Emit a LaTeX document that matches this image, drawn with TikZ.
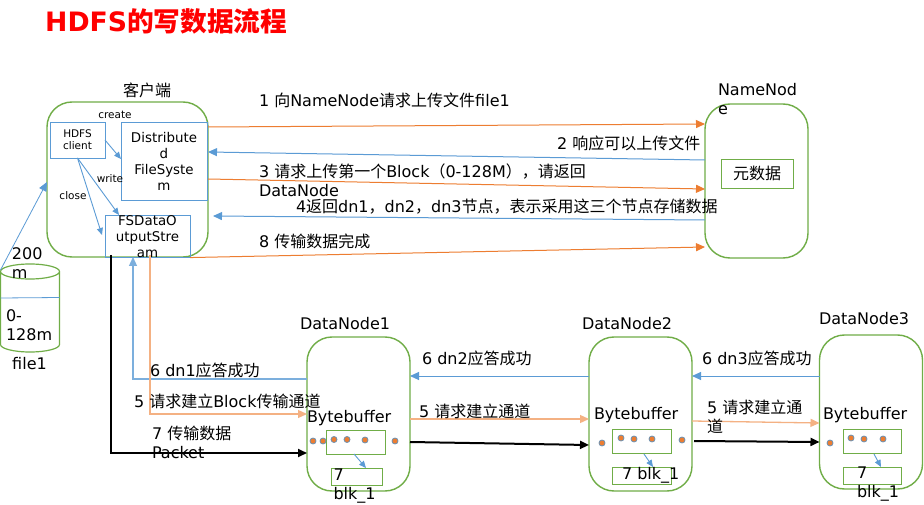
\documentclass[tikz,border=0pt]{standalone}
\usepackage{fontspec}
\setmainfont{DejaVu Sans}
\newfontfamily\cjk{Noto Sans CJK SC}
\newcommand\zh[1]{{\cjk #1}}
\usetikzlibrary{arrows.meta,calc}
\definecolor{cOr}{HTML}{ED7D31}
\definecolor{cBl}{HTML}{5B9BD5}
\definecolor{cGr}{HTML}{70AD47}
\definecolor{cLo}{HTML}{F4B183}
\definecolor{cTi}{HTML}{FF0000}
\newcommand\fs[2]{\fontsize{#1}{#2}\selectfont}
\tikzset{
  x=1pt,y=-1pt,
  lbl/.style={anchor=west,inner sep=0,outer sep=0,align=left,font=\fs{16}{19}},
  clbl/.style={anchor=center,inner sep=0,outer sep=0,align=center,font=\fs{16}{19}},
  rbox/.style={draw=cGr,line width=1.4pt,rounded corners=25pt,inner sep=0,outer sep=0,fill=white},
  gbox/.style={draw=cGr,line width=.9pt,inner sep=0,outer sep=0,align=center},
  bbox/.style={draw=cBl,line width=.9pt,inner sep=0,outer sep=0,align=center},
  tip/.style={-{Triangle[length=9pt,width=8pt]}},
  orl/.style={cOr,line width=1pt,tip},
  bll/.style={cBl,line width=1pt,tip},
  lol/.style={cLo,line width=1.3pt,tip},
  bkl/.style={black,line width=2pt,tip},
  thin arrow/.style={cBl,line width=.9pt,-{Triangle[length=7pt,width=6pt]}},
  dot/.style={circle,fill=cOr,draw=cBl!60!gray,line width=.8pt,minimum size=6pt,inner sep=0},
}
\begin{document}
\begin{tikzpicture}
\useasboundingbox[fill=white] (0,0) rectangle (924,505);
% title
\node[anchor=west,inner sep=0,text=cTi,font=\fs{26.7}{30}\bfseries] (title) at (45,21) {HDFS\zh{的写数据流程}};
% main containers
\node[rbox,minimum width=161pt,minimum height=155pt] (client) at (127.5,179.5) {};
\node[rbox,minimum width=103pt,minimum height=154pt] (nn) at (756.5,181) {};
\node[rbox,minimum width=103pt,minimum height=154pt] (dn1) at (358.5,414) {};
\node[rbox,minimum width=103pt,minimum height=154pt] (dn2) at (640.5,414) {};
\node[rbox,minimum width=103pt,minimum height=154pt] (dn3) at (871,412) {};
% client inner boxes
\node[bbox,minimum width=55pt,minimum height=36pt,font=\fs{10.5}{12}] (hc) at (77.5,140) {HDFS\\client};
\node[bbox,minimum width=86pt,minimum height=78pt,font=\fs{13.4}{16}] (dfs) at (164,161) {Distribute\\d\\FileSyste\\m};
\node[bbox,minimum width=85pt,minimum height=37pt,font=\fs{13.4}{16}] (fs) at (147.5,236.5) {FSDataO\\utputStre\\am};
% namenode box
\node[gbox,minimum width=72pt,minimum height=29pt,font=\fs{16}{19}] (meta) at (757,173.5) {\zh{元数据}};
% file cylinder
\coordinate (cyl) at (0.5,270);
\draw[cGr,line width=1.2pt] (0.5,271.5) arc[start angle=180,end angle=-180,x radius=29.5pt,y radius=7.5pt]
  (0.5,271.5) -- (0.5,344.5) arc[start angle=180,end angle=360,x radius=29.5pt,y radius=7.5pt] -- (59.5,271.5);
\draw[cBl,line width=.8pt] (0.5,298) -- (59.5,297.5);
% dn inner boxes
\node[gbox,minimum width=59pt,minimum height=24pt] (b1) at (355.5,442) {};
\node[gbox,minimum width=51pt,minimum height=17pt] (k1) at (356.5,476.5) {};
\node[gbox,minimum width=59pt,minimum height=24pt] (b2) at (641.5,441) {};
\node[gbox,minimum width=59pt,minimum height=17pt] (k2) at (641.5,475.5) {};
\node[gbox,minimum width=58pt,minimum height=24pt] (b3) at (872,441) {};
\node[gbox,minimum width=58pt,minimum height=17pt] (k3) at (872,475.5) {};
% client internals
\draw[thin arrow] (hc.east |- 0,140) -- (dfs.west |- 0,159);
\draw[thin arrow] (hc.south) -- (119,215);
\draw[thin arrow] (hc.south) -- (102,235);
% top arrows
\draw[orl] (client.east |- 0,127) -- (nn.west |- 0,124);
\draw[bll] (nn.west |- 0,160) -- (client.east |- 0,152);
\draw[orl] (client.east |- 0,179) -- (nn.west |- 0,189);
\draw[bll] (nn.west |- 0,220) -- (213,216);
\draw[orl] (fs.south east) -- (nn.west |- 0,247);
\draw[bll,line width=.8pt] (cyl) -- (client.west |- 0,182);
% down arrows
\draw[bkl] (111,255) |- (dn1.west |- 0,453);
\draw[bll,line width=1.3pt,cBl!80] (dn1.west |- 0,379) -| (133,257);
\draw[lol] (150,255) |- (dn1.west |- 0,414);
% data node arrows
\draw[bll] (dn2.west |- 0,376) -- (dn1.east |- 0,376);
\draw[lol] (dn1.east |- 0,419) -- (dn2.west |- 0,419);
\draw[bkl] (dn1.east |- 0,442) -- (dn2.west |- 0,445);
\draw[bll] (dn3.west |- 0,376) -- (dn2.east |- 0,376);
\draw[lol] (dn2.east |- 0,421) -- (dn3.west |- 0,423);
\draw[bkl] (694,441) -- (dn3.west |- 0,442);
\draw[thin arrow] (354,454) -- (k1.north -| 366,0);
\draw[thin arrow] (644,454) -- (k2.north -| 653,0);
\draw[thin arrow] (874,454) -- (k3.north -| 881,0);
% dots
\foreach \i/\x/\y in {a/313/441,b/323/441,c/334/439.5,d/347/439.5,e/365/440,f/395/441,
  g/602/443,h/621/438,j/634/439,k/652/439,l/682/440,
  m/830/443,n/851/438,o/864/439,p/883/439}
  \node[dot] (dot\i) at (\x,\y) {};
% labels
\node[clbl] (lc) at (147,90) {\zh{客户端}};
\node[clbl,font=\fs{10.5}{12}] (lcreate) at (115,115) {create};
\node[clbl,font=\fs{10.5}{12}] (lwrite) at (110,179) {write};
\node[clbl,font=\fs{10.5}{12}] (lclose) at (73,196) {close};
\node[lbl] (t1) at (259,100) {1 \zh{向}NameNode\zh{请求上传文件}file1};
\node[lbl] (t2) at (557,143) {2 \zh{响应可以上传文件}};
\node[lbl] (t3) at (259,180.5) {3 \zh{请求上传第一个}Block\zh{（}0-128M\zh{），请返回}\\DataNode};
\node[lbl] (t4) at (296,207) {4\zh{返回}dn1\zh{，}dn2\zh{，}dn3\zh{节点，表示采用这三个节点存储数据}};
\node[lbl] (t8) at (259,241) {8 \zh{传输数据完成}};
\node[lbl] (tnn) at (718,99) {NameNod\\e};
\node[lbl] (t200) at (12,263.5) {200\\m};
\node[lbl] (t128) at (6,325.5) {0-\\128m};
\node[clbl] (tf) at (29.5,364) {file1};
\node[lbl] (td1) at (300,324) {DataNode1};
\node[lbl] (td2) at (582,324) {DataNode2};
\node[lbl] (td3) at (819,319) {DataNode3};
\node[lbl] (t61) at (150,370) {6 dn1\zh{应答成功}};
\node[lbl] (t51) at (134,401) {5 \zh{请求建立}Block\zh{传输通道}};
\node[lbl] (t7) at (152,442.5) {7 \zh{传输数据}\\Packet};
\node[lbl] (bb1) at (307,418.5) {Bytebuffer};
\node[lbl] (bb2) at (594,415.5) {Bytebuffer};
\node[lbl] (bb3) at (823,415.5) {Bytebuffer};
\node[lbl] (t62) at (422,358) {6 dn2\zh{应答成功}};
\node[lbl] (t52) at (419,411) {5 \zh{请求建立通道}};
\node[lbl] (t63) at (702,358) {6 dn3\zh{应答成功}};
\node[lbl] (t53) at (707,417) {5 \zh{请求建立通}\\\zh{道}};
\node[lbl] (k1t) at (333.5,486.5) {7\\blk\_1};
\node[lbl] (k2t) at (622,475) {7 blk\_1};
\node[lbl] (k3t) at (857,484.5) {7\\blk\_1};
\end{tikzpicture}
\end{document}
